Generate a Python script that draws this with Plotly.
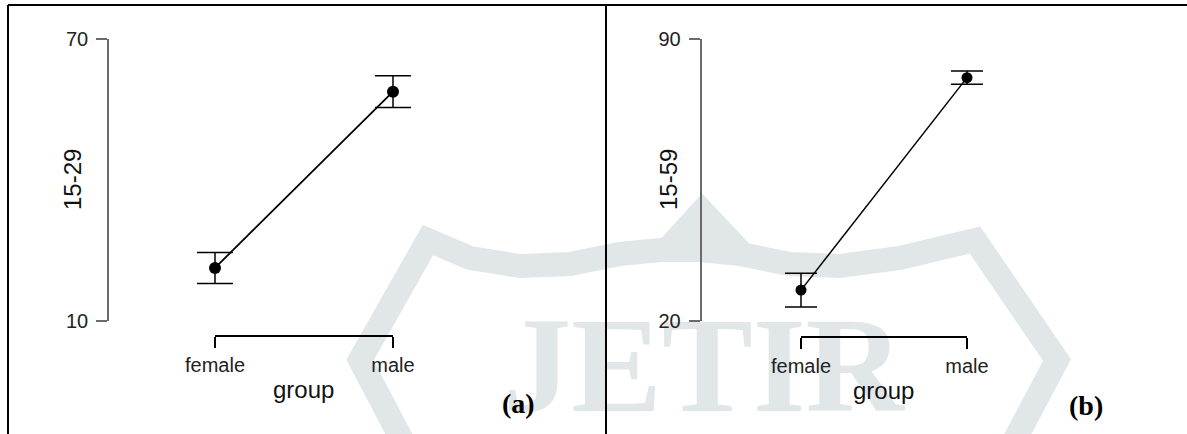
import plotly.graph_objects as go

W, H = 1187, 434

# ---- data ----
groups = ["female", "male"]
mean_15_29 = [21.3, 58.8]
err_15_29 = [3.3, 3.4]
mean_15_59 = [27.6, 80.4]
err_15_59 = [4.2, 1.65]
ticks_a = [10, 70]
ticks_b = [20, 90]


def px(x):
    return x / W


def py(y):
    return 1 - y / H


PAD = 0.3  # extra category room so error-bar caps are not clipped


def wide_domain(xf, xm):
    step = xm - xf
    return [px(xf - PAD * step), px(xm + PAD * step)]


fig = go.Figure()

fig.add_trace(go.Scatter(
    x=groups, y=mean_15_29, mode="lines+markers",
    line=dict(color="black", width=1.8),
    marker=dict(color="black", size=12),
    error_y=dict(type="data", array=err_15_29, color="black", thickness=1.5, width=18),
    cliponaxis=False, showlegend=False, xaxis="x", yaxis="y"))

fig.add_trace(go.Scatter(
    x=groups, y=mean_15_59, mode="lines+markers",
    line=dict(color="black", width=1.5),
    marker=dict(color="black", size=11),
    error_y=dict(type="data", array=err_15_59, color="black", thickness=1.5, width=16),
    cliponaxis=False, showlegend=False, xaxis="x2", yaxis="y2"))

# invisible traces that carry the bracket-style category axes
fig.add_trace(go.Scatter(x=groups, y=mean_15_29, mode="markers", marker=dict(opacity=0),
                         hoverinfo="skip", showlegend=False, xaxis="x3", yaxis="y"))
fig.add_trace(go.Scatter(x=groups, y=mean_15_59, mode="markers", marker=dict(opacity=0),
                         hoverinfo="skip", showlegend=False, xaxis="x4", yaxis="y2"))

tickfont = dict(family="Liberation Sans, Arial, sans-serif", size=20, color="#222")

hidden_x = dict(type="category", range=[-PAD, 1 + PAD], showgrid=False, zeroline=False,
                showline=False, showticklabels=False, ticks="", anchor="free",
                automargin=False, fixedrange=True)
bracket_x = dict(type="category", range=[0, 1], showgrid=False, zeroline=False,
                 showline=True, linecolor="black", linewidth=2,
                 ticks="outside", ticklen=11, tickwidth=2, tickcolor="black",
                 tickfont=tickfont, anchor="free", automargin=False, fixedrange=True)
ycommon = dict(showgrid=False, zeroline=False, showline=True,
               linecolor="#6a6a6a", linewidth=1.5, ticks="outside", ticklen=11,
               tickwidth=1.5, tickcolor="#6a6a6a", tickfont=tickfont,
               anchor="free", ticklabelstandoff=4, automargin=False, fixedrange=True)

fig.update_layout(
    template="none",
    width=W, height=H, autosize=False,
    margin=dict(l=0, r=0, t=0, b=0, pad=0, autoexpand=False),
    paper_bgcolor="white", plot_bgcolor="rgba(0,0,0,0)",
    xaxis=dict(**hidden_x, domain=wide_domain(215, 393), position=py(336)),
    xaxis3=dict(**bracket_x, domain=[px(215), px(393)], position=py(336)),
    yaxis=dict(**ycommon, domain=[py(321), py(39)], range=[10, 70],
               tickvals=ticks_a, position=px(108)),
    xaxis2=dict(**hidden_x, domain=wide_domain(801, 967), position=py(336.5)),
    xaxis4=dict(**bracket_x, domain=[px(801), px(967)], position=py(336.5)),
    yaxis2=dict(**ycommon, domain=[py(320.7), py(39)], range=[20, 90],
                tickvals=ticks_b, position=px(700.5)),
)

labfont = dict(family="Liberation Sans, Arial, sans-serif", size=24, color="#111")
panfont = dict(family="Liberation Serif, Times New Roman, serif", size=28, color="black")
anns = [
    dict(text="group", x=px(304), y=py(389), font=labfont),
    dict(text="group", x=px(883), y=py(390), font=labfont),
    dict(text="15-29", x=px(72), y=py(180), font=labfont, textangle=-90),
    dict(text="15-59", x=px(668), y=py(180), font=labfont, textangle=-90),
    dict(text="<b>(a)</b>", x=px(518), y=py(403), font=panfont),
    dict(text="<b>(b)</b>", x=px(1086), y=py(405), font=panfont),
]
for a in anns:
    fig.add_annotation(xref="paper", yref="paper", showarrow=False,
                       xanchor="center", yanchor="middle", **a)

# ---- faint background watermark of the source page (drawn below everything) ----
WM = "#e1e6e9"


def ppath(points):
    return "M " + " L ".join(f"{px(x):.5f},{py(y):.5f}" for x, y in points)


band = [(402, 440), (360, 360), (428, 240), (470, 258), (520, 266), (570, 264),
        (620, 254), (660, 250), (700, 250), (740, 254), (790, 264), (840, 266),
        (900, 258), (975, 240), (1057, 360), (1012, 445)]
fig.add_shape(type="path", xref="paper", yref="paper", layer="below",
              path=ppath(band), line=dict(color=WM, width=24))
fig.add_shape(type="path", xref="paper", yref="paper", layer="below",
              path=ppath([(652, 250), (702, 195), (754, 250)]) + " Z",
              fillcolor=WM, line=dict(color=WM, width=2))
fig.add_shape(type="rect", xref="paper", yref="paper", layer="below",
              x0=px(512), x1=px(895), y0=py(396), y1=py(304),
              line=dict(width=0), fillcolor="rgba(0,0,0,0)",
              label=dict(text="<b>JETIR</b>", textposition="middle center",
                         font=dict(family="Liberation Serif, Times New Roman, serif",
                                   size=136, color=WM)))

# frame lines
frame = dict(type="line", xref="paper", yref="paper", line=dict(color="black", width=2))
fig.add_shape(**frame, x0=px(8), x1=1, y0=py(5), y1=py(5))
fig.add_shape(**frame, x0=px(8), x1=px(8), y0=py(5), y1=0)
fig.add_shape(**frame, x0=px(606), x1=px(606), y0=py(5), y1=0)

fig.write_html("out.html", config={"displayModeBar": False},
               post_script="document.body.style.margin='0';document.body.style.overflow='hidden';")
